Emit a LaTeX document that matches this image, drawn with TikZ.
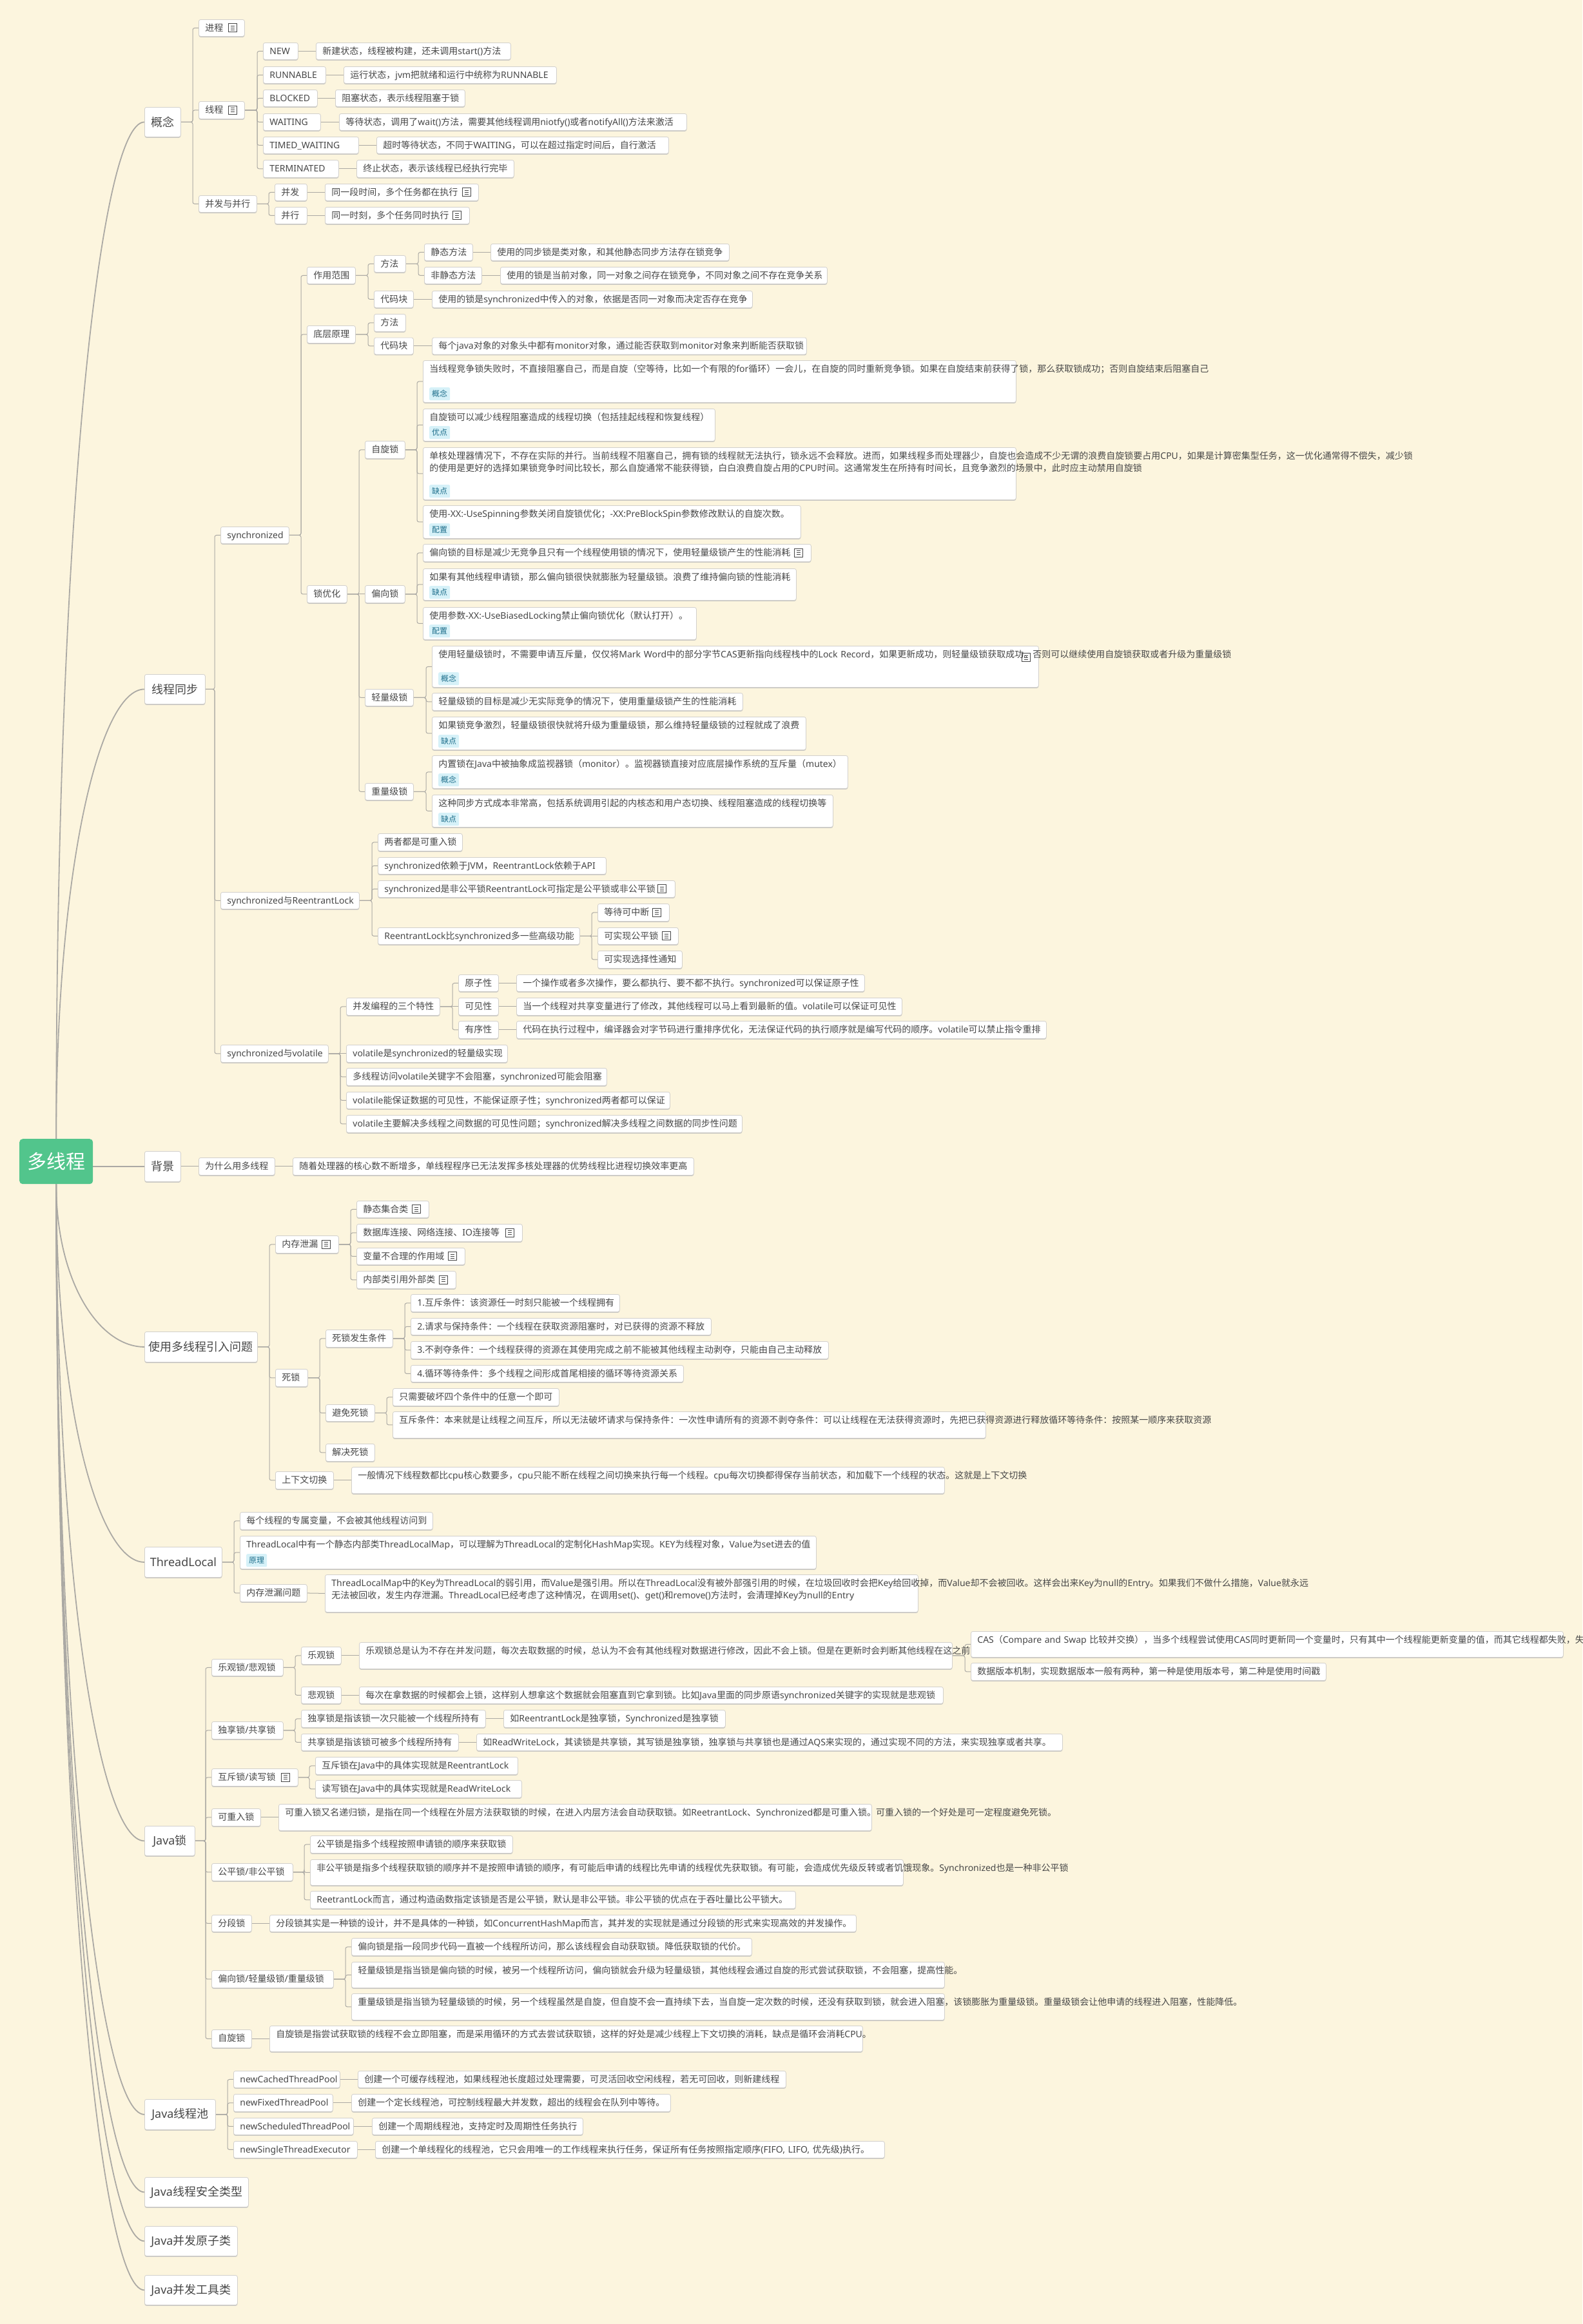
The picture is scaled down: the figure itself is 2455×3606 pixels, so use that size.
\documentclass[tikz,border=0pt]{standalone}
\usepackage{fontspec}
\usepackage{tikz}
\setmainfont{Noto Sans}
\newfontfamily\latinface{Noto Sans}
\newfontfamily\cjkface{Noto Sans CJK SC}
\newXeTeXintercharclass\cjkclass
\newcount\cjkcode
\cjkcode="3000
\loop\XeTeXcharclass\cjkcode=\cjkclass\ifnum\cjkcode<"9FFF\advance\cjkcode by 1\repeat
\cjkcode="FF00
\loop\XeTeXcharclass\cjkcode=\cjkclass\ifnum\cjkcode<"FFEF\advance\cjkcode by 1\repeat
\XeTeXinterchartoks 0 \cjkclass={\cjkface}
\XeTeXinterchartoks 4095 \cjkclass={\cjkface}
\XeTeXinterchartoks \cjkclass 0 ={\latinface}
\XeTeXinterchartoks \cjkclass 4095 ={\latinface}
\XeTeXinterchartokenstate=1
\AtBeginDocument{\lefthyphenmin=62 }
\definecolor{paper}{HTML}{FCF5DE}
\definecolor{rootgreen}{HTML}{52C58C}
\definecolor{inkgrey}{HTML}{474747}
\definecolor{linegrey}{HTML}{ABA9A4}
\definecolor{boxedge}{HTML}{D2D0CC}
\definecolor{boxshade}{HTML}{C9C8C4}
\definecolor{tagblue}{HTML}{D6F1F8}
\definecolor{taginkblue}{HTML}{1F6F8C}
\pgfdeclarelayer{edgelayer}
\pgfdeclarelayer{nodelayer}
\pgfsetlayers{edgelayer,nodelayer,main}
\tikzstyle{plate}=[rectangle,rounded corners=3pt,draw=boxedge,line width=0.8,fill=white,anchor=north west,preaction={fill=boxshade,transform canvas={yshift=-1.5pt}}]
\tikzstyle{topic}=[style=plate,text=inkgrey,align=left,inner xsep=10pt,inner ysep=0pt,text height=18pt,font=\fontsize{14}{19.5}\selectfont]
\tikzstyle{maintopic}=[style=plate,text=inkgrey,inner sep=0pt,font=\fontsize{18}{22}\selectfont]
\tikzstyle{rootbox}=[rectangle,rounded corners=5pt,fill=rootgreen,text=white,anchor=north west,inner sep=0pt,font=\fontsize{30}{36}\selectfont]
\tikzstyle{notetag}=[rectangle,rounded corners=2pt,fill=tagblue,text=taginkblue,anchor=north west,inner sep=0pt,minimum width=32,minimum height=20,font=\fontsize{12}{14}\selectfont]
\tikzstyle{noteicon}=[rectangle,draw=inkgrey,line width=0.8,minimum size=13,inner sep=0pt,path picture={
	\foreach \level in {-3,0,3}
		\draw [draw=inkgrey,line width=0.8] ([xshift=-3pt,yshift=\level pt]path picture bounding box.center) -- ([xshift=3pt,yshift=\level pt]path picture bounding box.center);
}]
\tikzstyle{branch}=[-,draw=linegrey,line width=1.0,rounded corners=3pt,to path={-| ([xshift=-9pt]\tikztotarget) -- (\tikztotarget)}]
\tikzstyle{leafline}=[-,draw=linegrey,line width=1.0]
\tikzstyle{rootline}=[-,draw=linegrey,line width=1.8]
\tikzset{dims/.style 2 args={text width={(#1-20)*1pt},text depth={(#2-18)*1pt}}}
\begin{document}
\begin{tikzpicture}[x=1pt,y=-1pt]
	\useasboundingbox (0,0) rectangle (2455,3606);
	\begin{pgfonlayer}{nodelayer}
		\node [style=rootbox, minimum width=114, minimum height=70] (multi) at (30, 1767) {多线程};
		% first level
		\node [style=maintopic, minimum width=56, minimum height=46] (concept) at (224, 166) {概念};
		\node [style=maintopic, minimum width=94, minimum height=46] (sync) at (224, 1046) {线程同步};
		\node [style=maintopic, minimum width=56, minimum height=47] (backgr) at (224, 1786) {背景};
		\node [style=maintopic, minimum width=175, minimum height=47] (issues) at (224, 2066) {使用多线程引入问题};
		\node [style=maintopic, minimum width=120, minimum height=47] (tlocal) at (224, 2400) {ThreadLocal};
		\node [style=maintopic, minimum width=78, minimum height=46] (jlock) at (224, 2833) {Java锁};
		\node [style=maintopic, minimum width=110, minimum height=47] (jpool) at (224, 3257) {Java线程池};
		\node [style=maintopic, minimum width=161, minimum height=46] (jsafe) at (224, 3378) {Java线程安全类型};
		\node [style=maintopic, minimum width=144, minimum height=46] (jatom) at (224, 3454) {Java并发原子类};
		\node [style=maintopic, minimum width=144, minimum height=46] (jtool) at (224, 3530) {Java并发工具类};
		% concept
		\node [style=topic, dims={71}{26}] (process) at (308, 30) {进程};
		\node [style=noteicon] (processnote) at (361, 43) {};
		\node [style=topic, dims={71}{27}] (thread) at (308, 157) {线程};
		\node [style=noteicon] (threadnote) at (361, 170.5) {};
		\node [style=topic, dims={90}{26}] (concur) at (308, 303) {并发与并行};
		\node [style=topic, dims={54}{26}] (snew) at (408, 66) {NEW};
		\node [style=topic, dims={302}{26}] (snewd) at (490, 66) {新建状态，线程被构建，还未调用start()方法};
		\node [style=topic, dims={97}{26}] (srun) at (408, 103) {RUNNABLE};
		\node [style=topic, dims={330}{26}] (srund) at (533, 103) {运行状态，jvm把就绪和运行中统称为RUNNABLE};
		\node [style=topic, dims={84}{26}] (sblock) at (408, 139) {BLOCKED};
		\node [style=topic, dims={201}{26}] (sblockd) at (520, 139) {阻塞状态，表示线程阻塞于锁};
		\node [style=topic, dims={89}{26}] (swait) at (408, 176) {WAITING};
		\node [style=topic, dims={539}{26}] (swaitd) at (526, 176) {等待状态，调用了wait()方法，需要其他线程调用niotfy()或者notifyAll()方法来激活};
		\node [style=topic, dims={148}{26}] (stimed) at (408, 212) {TIMED\_WAITING};
		\node [style=topic, dims={453}{26}] (stimedd) at (584, 212) {超时等待状态，不同于WAITING，可以在超过指定时间后，自行激活};
		\node [style=topic, dims={117}{27}] (sterm) at (408, 248) {TERMINATED};
		\node [style=topic, dims={244}{27}] (stermd) at (553, 248) {终止状态，表示该线程已经执行完毕};
		\node [style=topic, dims={50}{26}] (concA) at (426, 285) {并发};
		\node [style=topic, dims={238}{26}] (concAd) at (504, 285) {同一段时间，多个任务都在执行};
		\node [style=noteicon] (concAnote) at (723.5, 298) {};
		\node [style=topic, dims={50}{26}] (concB) at (426, 321) {并行};
		\node [style=topic, dims={224}{26}] (concBd) at (504, 321) {同一时刻，多个任务同时执行};
		\node [style=noteicon] (concBnote) at (709, 334) {};
		% synchronized
		\node [style=topic, dims={106}{26}] (syncd) at (342, 817) {synchronized};
		\node [style=topic, dims={75}{26}] (scope) at (476, 414) {作用范围};
		\node [style=topic, dims={49}{26}] (smeth) at (580, 396) {方法};
		\node [style=topic, dims={75}{26}] (sstat) at (658, 378) {静态方法};
		\node [style=topic, dims={370}{26}] (sstatd) at (761, 378) {使用的同步锁是类对象，和其他静态同步方法存在锁竞争};
		\node [style=topic, dims={89}{26}] (snons) at (658, 414) {非静态方法};
		\node [style=topic, dims={507}{26}] (snonsd) at (776, 414) {使用的锁是当前对象，同一对象之间存在锁竞争，不同对象之间不存在竞争关系};
		\node [style=topic, dims={61}{26}] (sblk) at (580, 451) {代码块};
		\node [style=topic, dims={497}{26}] (sblkd) at (670, 451) {使用的锁是synchronized中传入的对象，依据是否同一对象而决定否存在竞争};
		\node [style=topic, dims={75}{27}] (under) at (476, 505) {底层原理};
		\node [style=topic, dims={49}{27}] (umeth) at (580, 487) {方法};
		\node [style=topic, dims={61}{26}] (ublk) at (580, 523.5) {代码块};
		\node [style=topic, dims={581}{26}] (ublkd) at (670, 523.5) {每个java对象的对象头中都有monitor对象，通过能否获取到monitor对象来判断能否获取锁};
		\node [style=topic, dims={62}{27}] (optim) at (476, 908) {锁优化};
		\node [style=topic, dims={62}{27}] (spin) at (566, 684) {自旋锁};
		\node [style=topic, dims={920}{65}] (spinA) at (656, 559) {当线程竞争锁失败时，不直接阻塞自己，而是自旋（空等待，比如一个有限的for循环）一会儿，在自旋的同时重新竞争锁。如果在自旋结束前获得了锁，那么获取锁成功；否则自旋结束后阻塞自己};
		\node [style=notetag] (spinAtag) at (666, 601) {概念};
		\node [style=topic, dims={453}{50}] (spinB) at (656, 634) {自旋锁可以减少线程阻塞造成的线程切换（包括挂起线程和恢复线程）};
		\node [style=notetag] (spinBtag) at (666, 661) {优点};
		\node [style=topic, dims={920}{81}] (spinC) at (656, 694) {单核处理器情况下，不存在实际的并行。当前线程不阻塞自己，拥有锁的线程就无法执行，锁永远不会释放。进而，如果线程多而处理器少，自旋也会造成不少无谓的浪费自旋锁要占用CPU，如果是计算密集型任务，这一优化通常得不偿失，减少锁\\的使用是更好的选择如果锁竞争时间比较长，那么自旋通常不能获得锁，白白浪费自旋占用的CPU时间。这通常发生在所持有时间长，且竞争激烈的场景中，此时应主动禁用自旋锁};
		\node [style=notetag] (spinCtag) at (666, 752) {缺点};
		\node [style=topic, dims={586}{51}] (spinD) at (656, 784) {使用-XX:-UseSpinning参数关闭自旋锁优化；-XX:PreBlockSpin参数修改默认的自旋次数。};
		\node [style=notetag] (spinDtag) at (666, 812) {配置};
		\node [style=topic, dims={62}{27}] (biased) at (566, 908) {偏向锁};
		\node [style=topic, dims={602}{27}] (biasA) at (656, 844) {偏向锁的目标是减少无竞争且只有一个线程使用锁的情况下，使用轻量级锁产生的性能消耗};
		\node [style=noteicon] (biasAnote) at (1239, 857.5) {};
		\node [style=topic, dims={579}{49}] (biasB) at (656, 882) {如果有其他线程申请锁，那么偏向锁很快就膨胀为轻量级锁。浪费了维持偏向锁的性能消耗};
		\node [style=notetag] (biasBtag) at (666, 909) {缺点};
		\node [style=topic, dims={424}{50}] (biasC) at (656, 942) {使用参数-XX:-UseBiasedLocking禁止偏向锁优化（默认打开）。};
		\node [style=notetag] (biasCtag) at (666, 969) {配置};
		\node [style=topic, dims={75}{26}] (light) at (566, 1069) {轻量级锁};
		\node [style=topic, dims={941}{64}] (lightA) at (670, 1002) {使用轻量级锁时，不需要申请互斥量，仅仅将Mark~Word中的部分字节CAS更新指向线程栈中的Lock~Record，如果更新成功，则轻量级锁获取成功。否则可以继续使用自旋锁获取或者升级为重量级锁};
		\node [style=noteicon] (lightAnote) at (1592, 1020) {};
		\node [style=notetag] (lightAtag) at (680, 1043) {概念};
		\node [style=topic, dims={482}{27}] (lightB) at (670, 1075) {轻量级锁的目标是减少无实际竞争的情况下，使用重量级锁产生的性能消耗};
		\node [style=topic, dims={580}{51}] (lightC) at (670, 1112) {如果锁竞争激烈，轻量级锁很快就将升级为重量级锁，那么维持轻量级锁的过程就成了浪费};
		\node [style=notetag] (lightCtag) at (680, 1140) {缺点};
		\node [style=topic, dims={75}{26}] (heavy) at (566, 1215) {重量级锁};
		\node [style=topic, dims={645}{51}] (heavyA) at (670, 1172) {内置锁在Java中被抽象成监视器锁（monitor）。监视器锁直接对应底层操作系统的互斥量（mutex）};
		\node [style=notetag] (heavyAtag) at (680, 1200) {概念};
		\node [style=topic, dims={622}{50}] (heavyB) at (670, 1233) {这种同步方式成本非常高，包括系统调用引起的内核态和用户态切换、线程阻塞造成的线程切换等};
		\node [style=notetag] (heavyBtag) at (680, 1261) {缺点};
		% reentrant
		\node [style=topic, dims={215}{26}] (reent) at (342, 1384) {synchronized与ReentrantLock};
		\node [style=topic, dims={131}{27}] (reentA) at (586, 1293) {两者都是可重入锁};
		\node [style=topic, dims={354}{26}] (reentB) at (586, 1330) {synchronized依赖于JVM，ReentrantLock依赖于API};
		\node [style=topic, dims={461}{26}] (reentC) at (586, 1366) {synchronized是非公平锁ReentrantLock可指定是公平锁或非公平锁};
		\node [style=noteicon] (reentCnote) at (1027, 1379) {};
		\node [style=topic, dims={313}{26}] (reentD) at (586, 1439) {ReentrantLock比synchronized多一些高级功能};
		\node [style=topic, dims={111}{27}] (featA) at (927, 1402) {等待可中断};
		\node [style=noteicon] (featAnote) at (1019, 1415.5) {};
		\node [style=topic, dims={125}{26}] (featB) at (927, 1439) {可实现公平锁};
		\node [style=noteicon] (featBnote) at (1033.5, 1452) {};
		\node [style=topic, dims={131}{27}] (featC) at (927, 1475) {可实现选择性通知};
		% volatile
		\node [style=topic, dims={167}{27}] (vola) at (342, 1621) {synchronized与volatile};
		\node [style=topic, dims={145}{27}] (three) at (537, 1548) {并发编程的三个特性};
		\node [style=topic, dims={62}{26}] (atomic) at (711, 1512) {原子性};
		\node [style=topic, dims={540}{26}] (atomicd) at (801, 1512) {一个操作或者多次操作，要么都执行、要不都不执行。synchronized可以保证原子性};
		\node [style=topic, dims={62}{27}] (visible) at (711, 1548) {可见性};
		\node [style=topic, dims={598}{27}] (visibled) at (801, 1548) {当一个线程对共享变量进行了修改，其他线程可以马上看到最新的值。volatile可以保证可见性};
		\node [style=topic, dims={62}{27}] (order) at (711, 1584) {有序性};
		\node [style=topic, dims={822}{27}] (orderd) at (801, 1584) {代码在执行过程中，编译器会对字节码进行重排序优化，无法保证代码的执行顺序就是编写代码的顺序。volatile可以禁止指令重排};
		\node [style=topic, dims={250}{27}] (volaA) at (537, 1621) {volatile是synchronized的轻量级实现};
		\node [style=topic, dims={404}{27}] (volaB) at (537, 1657) {多线程访问volatile关键字不会阻塞，synchronized可能会阻塞};
		\node [style=topic, dims={502}{26}] (volaC) at (537, 1694) {volatile能保证数据的可见性，不能保证原子性；synchronized两者都可以保证};
		\node [style=topic, dims={614}{27}] (volaD) at (537, 1730) {volatile主要解决多线程之间数据的可见性问题；synchronized解决多线程之间数据的同步性问题};
		% background
		\node [style=topic, dims={118}{27}] (whymt) at (308, 1796) {为什么用多线程};
		\node [style=topic, dims={622}{27}] (whymtd) at (454, 1796) {随着处理器的核心数不断增多，单线程程序已无法发挥多核处理器的优势线程比进程切换效率更高};
		% issues
		\node [style=topic, dims={98}{27}] (leak) at (427, 1917) {内存泄漏};
		\node [style=noteicon] (leaknote) at (506, 1930.5) {};
		\node [style=topic, dims={112}{26}] (leakA) at (553, 1863) {静态集合类};
		\node [style=noteicon] (leakAnote) at (646, 1876) {};
		\node [style=topic, dims={257}{27}] (leakB) at (553, 1899) {数据库连接、网络连接、IO连接等};
		\node [style=noteicon] (leakBnote) at (791, 1912.5) {};
		\node [style=topic, dims={168}{26}] (leakC) at (553, 1936) {变量不合理的作用域};
		\node [style=noteicon] (leakCnote) at (702, 1949) {};
		\node [style=topic, dims={154}{27}] (leakD) at (553, 1972) {内部类引用外部类};
		\node [style=noteicon] (leakDnote) at (688, 1985.5) {};
		\node [style=topic, dims={50}{27}] (dead) at (427, 2124) {死锁};
		\node [style=topic, dims={104}{27}] (deadcond) at (505, 2063) {死锁发生条件};
		\node [style=topic, dims={324}{27}] (condA) at (637, 2008) {1.互斥条件：该资源任一时刻只能被一个线程拥有};
		\node [style=topic, dims={466}{26}] (condB) at (637, 2045) {2.请求与保持条件：一个线程在获取资源阻塞时，对已获得的资源不释放};
		\node [style=topic, dims={648}{27}] (condC) at (637, 2081) {3.不剥夺条件：一个线程获得的资源在其使用完成之前不能被其他线程主动剥夺，只能由自己主动释放};
		\node [style=topic, dims={423}{26}] (condD) at (637, 2118) {4.循环等待条件：多个线程之间形成首尾相接的循环等待资源关系};
		\node [style=topic, dims={76}{26}] (avoid) at (505, 2179) {避免死锁};
		\node [style=topic, dims={258}{27}] (avoidA) at (609, 2154) {只需要破坏四个条件中的任意一个即可};
		\node [style=topic, dims={920}{41}] (avoidB) at (609, 2190) {互斥条件：本来就是让线程之间互斥，所以无法破坏请求与保持条件：一次性申请所有的资源不剥夺条件：可以让线程在无法获得资源时，先把已获得资源进行释放循环等待条件：按照某一顺序来获取资源};
		\node [style=topic, dims={76}{27}] (solve) at (505, 2240) {解决死锁};
		\node [style=topic, dims={90}{27}] (switchctx) at (427, 2283) {上下文切换};
		\node [style=topic, dims={920}{41}] (switchd) at (545, 2276) {一般情况下线程数都比cpu核心数要多，cpu只能不断在线程之间切换来执行每一个线程。cpu每次切换都得保存当前状态，和加载下一个线程的状态。这就是上下文切换};
		% thread local
		\node [style=topic, dims={299}{27}] (tlA) at (372, 2346) {每个线程的专属变量，不会被其他线程访问到};
		\node [style=topic, dims={894}{51}] (tlB) at (372, 2383) {ThreadLocal中有一个静态内部类ThreadLocalMap，可以理解为ThreadLocal的定制化HashMap实现。KEY为线程对象，Value为set进去的值};
		\node [style=notetag] (tlBtag) at (382, 2411) {原理};
		\node [style=topic, dims={104}{27}] (tlC) at (372, 2458) {内存泄漏问题};
		\node [style=topic, dims={920}{58}] (tlCd) at (504, 2443) {ThreadLocalMap中的Key为ThreadLocal的弱引用，而Value是强引用。所以在ThreadLocal没有被外部强引用的时候，在垃圾回收时会把Key给回收掉，而Value却不会被回收。这样会出来Key为null的Entry。如果我们不做什么措施，Value就永远\\无法被回收，发生内存泄漏。ThreadLocal已经考虑了这种情况，在调用set()、get()和remove()方法时，会清理掉Key为null的Entry};
		% java locks
		\node [style=topic, dims={111}{26}] (optpes) at (328, 2574) {乐观锁/悲观锁};
		\node [style=topic, dims={62}{27}] (opt) at (467, 2555) {乐观锁};
		\node [style=topic, dims={920}{41}] (optd) at (557, 2548) {乐观锁总是认为不存在并发问题，每次去取数据的时候，总认为不会有其他线程对数据进行修改，因此不会上锁。但是在更新时会判断其他线程在这之前};
		\node [style=topic, dims={919}{40}] (optA) at (1506, 2531) {CAS（Compare~and~Swap~比较并交换），当多个线程尝试使用CAS同时更新同一个变量时，只有其中一个线程能更新变量的值，而其它线程都失败，失};
		\node [style=topic, dims={551}{27}] (optB) at (1506, 2580) {数据版本机制，实现数据版本一般有两种，第一种是使用版本号，第二种是使用时间戳};
		\node [style=topic, dims={62}{26}] (pes) at (467, 2617) {悲观锁};
		\node [style=topic, dims={906}{26}] (pesd) at (557, 2617) {每次在拿数据的时候都会上锁，这样别人想拿这个数据就会阻塞直到它拿到锁。比如Java里面的同步原语synchronized关键字的实现就是悲观锁};
		\node [style=topic, dims={111}{27}] (exshare) at (328, 2671) {独享锁/共享锁};
		\node [style=topic, dims={286}{27}] (excl) at (467, 2653) {独享锁是指该锁一次只能被一个线程所持有};
		\node [style=topic, dims={344}{27}] (excld) at (781, 2653) {如ReentrantLock是独享锁，Synchronized是独享锁};
		\node [style=topic, dims={244}{26}] (share) at (467, 2690) {共享锁是指该锁可被多个线程所持有};
		\node [style=topic, dims={909}{26}] (shared) at (739, 2690) {如ReadWriteLock，其读锁是共享锁，其写锁是独享锁，独享锁与共享锁也是通过AQS来实现的，通过实现不同的方法，来实现独享或者共享。};
		\node [style=topic, dims={134}{27}] (mutrw) at (328, 2744) {互斥锁/读写锁};
		\node [style=noteicon] (mutrwnote) at (442.5, 2757.5) {};
		\node [style=topic, dims={314}{27}] (mutA) at (489, 2726) {互斥锁在Java中的具体实现就是ReentrantLock};
		\node [style=topic, dims={320}{27}] (mutB) at (489, 2762) {读写锁在Java中的具体实现就是ReadWriteLock};
		\node [style=topic, dims={76}{27}] (reenter) at (328, 2806) {可重入锁};
		\node [style=topic, dims={920}{41}] (reenterd) at (432, 2799) {可重入锁又名递归锁，是指在同一个线程在外层方法获取锁的时候，在进入内层方法会自动获取锁。如ReetrantLock、Synchronized都是可重入锁。可重入锁的一个好处是可一定程度避免死锁。};
		\node [style=topic, dims={126}{27}] (fair) at (328, 2891) {公平锁/非公平锁};
		\node [style=topic, dims={314}{27}] (fairA) at (481, 2848) {公平锁是指多个线程按照申请锁的顺序来获取锁};
		\node [style=topic, dims={920}{40}] (fairB) at (481, 2885) {非公平锁是指多个线程获取锁的顺序并不是按照申请锁的顺序，有可能后申请的线程比先申请的线程优先获取锁。有可能，会造成优先级反转或者饥饿现象。Synchronized也是一种非公平锁};
		\node [style=topic, dims={753}{27}] (fairC) at (481, 2934) {ReetrantLock而言，通过构造函数指定该锁是否是公平锁，默认是非公平锁。非公平锁的优点在于吞吐量比公平锁大。};
		\node [style=topic, dims={62}{26}] (segm) at (328, 2971) {分段锁};
		\node [style=topic, dims={910}{26}] (segmd) at (418, 2971) {分段锁其实是一种锁的设计，并不是具体的一种锁，如ConcurrentHashMap而言，其并发的实现就是通过分段锁的形式来实现高效的并发操作。};
		\node [style=topic, dims={189}{27}] (levels) at (328, 3057) {偏向锁/轻量级锁/重量级锁};
		\node [style=topic, dims={621}{27}] (levelA) at (545, 3007) {偏向锁是指一段同步代码一直被一个线程所访问，那么该线程会自动获取锁。降低获取锁的代价。};
		\node [style=topic, dims={920}{40}] (levelB) at (545, 3044) {轻量级锁是指当锁是偏向锁的时候，被另一个线程所访问，偏向锁就会升级为轻量级锁，其他线程会通过自旋的形式尝试获取锁，不会阻塞，提高性能。};
		\node [style=topic, dims={920}{41}] (levelC) at (545, 3093) {重量级锁是指当锁为轻量级锁的时候，另一个线程虽然是自旋，但自旋不会一直持续下去，当自旋一定次数的时候，还没有获取到锁，就会进入阻塞，该锁膨胀为重量级锁。重量级锁会让他申请的线程进入阻塞，性能降低。};
		\node [style=topic, dims={62}{28}] (spinlk) at (328, 3149) {自旋锁};
		\node [style=topic, dims={920}{40}] (spinlkd) at (418, 3143) {自旋锁是指尝试获取锁的线程不会立即阻塞，而是采用循环的方式去尝试获取锁，这样的好处是减少线程上下文切换的消耗，缺点是循环会消耗CPU。};
		% thread pools
		\node [style=topic, dims={165}{26}] (pcached) at (362, 3213) {newCachedThreadPool};
		\node [style=topic, dims={664}{26}] (pcachedd) at (555, 3213) {创建一个可缓存线程池，如果线程池长度超过处理需要，可灵活回收空闲线程，若无可回收，则新建线程};
		\node [style=topic, dims={154}{27}] (pfixed) at (362, 3249) {newFixedThreadPool};
		\node [style=topic, dims={495}{27}] (pfixedd) at (545, 3249) {创建一个定长线程池，可控制线程最大并发数，超出的线程会在队列中等待。};
		\node [style=topic, dims={186}{26}] (psched) at (362, 3286) {newScheduledThreadPool};
		\node [style=topic, dims={327}{26}] (pschedd) at (577, 3286) {创建一个周期线程池，支持定时及周期性任务执行};
		\node [style=topic, dims={192}{26}] (psingle) at (362, 3322) {newSingleThreadExecutor};
		\node [style=topic, dims={790}{26}] (psingled) at (582, 3322) {创建一个单线程化的线程池，它只会用唯一的工作线程来执行任务，保证所有任务按照指定顺序(FIFO,~LIFO,~优先级)执行。};
	\end{pgfonlayer}
	\begin{pgfonlayer}{edgelayer}
		\fill [paper] (0,0) rectangle (2455,3606);
		\draw [style=rootline] (multi.north) .. controls +(0,-956) and +(-70,0) .. (concept.west);
		\draw [style=rootline] (multi.north) .. controls +(0,-418) and +(-70,0) .. (sync.west);
		\draw [style=rootline] (multi.east |- backgr.west) to (backgr.west);
		\draw [style=rootline] (multi.south) .. controls +(0,152) and +(-70,0) .. (issues.west);
		\draw [style=rootline] (multi.south) .. controls +(0,352) and +(-70,0) .. (tlocal.west);
		\draw [style=rootline] (multi.south) .. controls +(0,611) and +(-70,0) .. (jlock.west);
		\draw [style=rootline] (multi.south) .. controls +(0,866) and +(-70,0) .. (jpool.west);
		\draw [style=rootline] (multi.south) .. controls +(0,938) and +(-70,0) .. (jsafe.west);
		\draw [style=rootline] (multi.south) .. controls +(0,984) and +(-70,0) .. (jatom.west);
		\draw [style=rootline] (multi.south) .. controls +(0,1030) and +(-70,0) .. (jtool.west);
		\foreach \child in {process,thread,concur}
			\draw [style=branch] (concept.east) to (\child.west);
		\foreach \child in {snew,srun,sblock,swait,stimed,sterm}
			\draw [style=branch] (thread.east) to (\child.west);
		\foreach \from/\to in {snew/snewd,srun/srund,sblock/sblockd,swait/swaitd,stimed/stimedd,sterm/stermd,concA/concAd,concB/concBd,sstat/sstatd,snons/snonsd,sblk/sblkd,ublk/ublkd,optim/biased,atomic/atomicd,visible/visibled,order/orderd,three/visible,backgr/whymt,whymt/whymtd,switchctx/switchd,tlC/tlCd,opt/optd,pes/pesd,excl/excld,share/shared,reenter/reenterd,segm/segmd,spinlk/spinlkd,pcached/pcachedd,pfixed/pfixedd,psched/pschedd,psingle/psingled,vola/volaA,reentD/featB}
			\draw [style=leafline] (\from.east) to (\to.west);
		\foreach \child in {concA,concB}
			\draw [style=branch] (concur.east) to (\child.west);
		\foreach \child in {syncd,reent,vola}
			\draw [style=branch] (sync.east) to (\child.west);
		\foreach \child in {scope,under,optim}
			\draw [style=branch] (syncd.east) to (\child.west);
		\foreach \child in {smeth,sblk}
			\draw [style=branch] (scope.east) to (\child.west);
		\foreach \child in {sstat,snons}
			\draw [style=branch] (smeth.east) to (\child.west);
		\foreach \child in {umeth,ublk}
			\draw [style=branch] (under.east) to (\child.west);
		\foreach \child in {spin,light,heavy}
			\draw [style=branch] (optim.east) to (\child.west);
		\foreach \child in {spinA,spinB,spinC,spinD}
			\draw [style=branch] (spin.east) to (\child.west);
		\foreach \child in {biasA,biasB,biasC}
			\draw [style=branch] (biased.east) to (\child.west);
		\foreach \child in {lightA,lightB,lightC}
			\draw [style=branch] (light.east) to (\child.west);
		\foreach \child in {heavyA,heavyB}
			\draw [style=branch] (heavy.east) to (\child.west);
		\foreach \child in {reentA,reentB,reentC,reentD}
			\draw [style=branch] (reent.east) to (\child.west);
		\foreach \child in {featA,featC}
			\draw [style=branch] (reentD.east) to (\child.west);
		\foreach \child in {three,volaB,volaC,volaD}
			\draw [style=branch] (vola.east) to (\child.west);
		\foreach \child in {atomic,order}
			\draw [style=branch] (three.east) to (\child.west);
		\foreach \child in {leak,dead,switchctx}
			\draw [style=branch] (issues.east) to (\child.west);
		\foreach \child in {leakA,leakB,leakC,leakD}
			\draw [style=branch] (leak.east) to (\child.west);
		\foreach \child in {deadcond,avoid,solve}
			\draw [style=branch] (dead.east) to (\child.west);
		\foreach \child in {condA,condB,condC,condD}
			\draw [style=branch] (deadcond.east) to (\child.west);
		\foreach \child in {avoidA,avoidB}
			\draw [style=branch] (avoid.east) to (\child.west);
		\foreach \child in {tlA,tlB,tlC}
			\draw [style=branch] (tlocal.east) to (\child.west);
		\foreach \child in {optpes,exshare,mutrw,reenter,fair,segm,levels,spinlk}
			\draw [style=branch] (jlock.east) to (\child.west);
		\foreach \child in {opt,pes}
			\draw [style=branch] (optpes.east) to (\child.west);
		\foreach \child in {optA,optB}
			\draw [style=branch] (optd.east) to (\child.west);
		\foreach \child in {excl,share}
			\draw [style=branch] (exshare.east) to (\child.west);
		\foreach \child in {mutA,mutB}
			\draw [style=branch] (mutrw.east) to (\child.west);
		\foreach \child in {fairA,fairB,fairC}
			\draw [style=branch] (fair.east) to (\child.west);
		\foreach \child in {levelA,levelB,levelC}
			\draw [style=branch] (levels.east) to (\child.west);
		\foreach \child in {pcached,pfixed,psched,psingle}
			\draw [style=branch] (jpool.east) to (\child.west);
	\end{pgfonlayer}
\end{tikzpicture}
\end{document}
